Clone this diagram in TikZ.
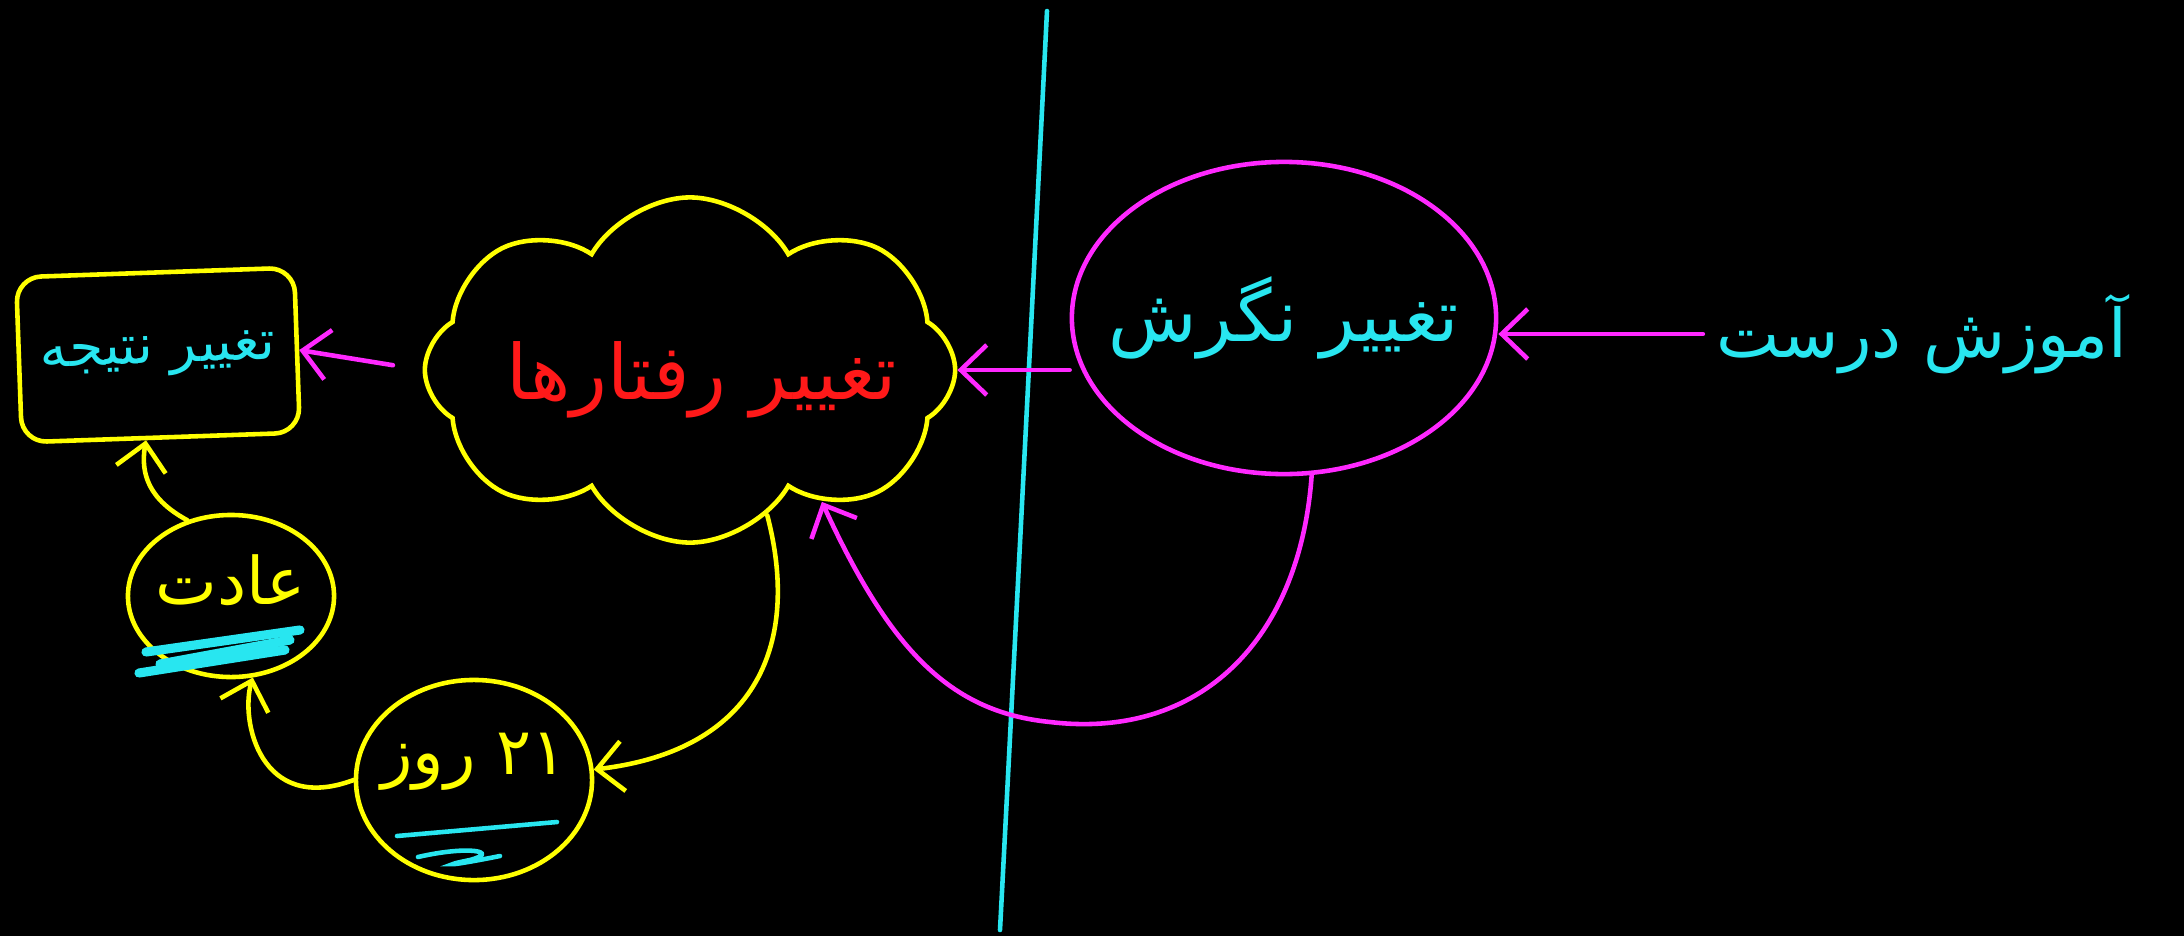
\documentclass[tikz,border=0pt]{standalone}
\usepackage{fontspec}
\usepackage{graphicx}
\usetikzlibrary{shapes.geometric,shapes.symbols,arrows.meta}
\TeXXeTstate=1
\newfontfamily\arabicfont[Script=Arabic]{DejaVu Sans}
\definecolor{pcyan}{RGB}{40,230,240}
\definecolor{pmag}{RGB}{255,40,255}
\definecolor{pyel}{RGB}{255,255,0}
\definecolor{pred}{RGB}{255,25,25}
\begin{document}
\begin{tikzpicture}[x=0.01cm,y=-0.01cm,line width=1.3pt,line cap=round,
  barb/.style={-{Straight Barb[length=0.26cm,width=0.5cm]}},
  pinkarrow/.style={draw=pmag,barb},
  yelarrow/.style={draw=pyel,barb},
  pinkoval/.style={ellipse,draw=pmag,inner sep=0pt},
  yeloval/.style={ellipse,draw=pyel,inner sep=0pt},
  cloudbox/.style={cloud,draw=pyel,cloud puffs=8,cloud puff arc=120,aspect=1.5,inner sep=0pt},
  resbox/.style={draw=pyel,rounded corners=0.25cm,inner sep=0pt,text=pcyan},
  scribble/.style={draw=pcyan,line width=2.6pt}
]
\fill[black] (0,0) rectangle (2184,936);
\useasboundingbox (0,0) rectangle (2184,936);

% divider
\draw[pcyan] (1047,11) .. controls (1030,350) and (1012,700) .. (1000,930);

% shapes
\node[pinkoval,minimum width=4.24cm,minimum height=3.12cm] (att) at (1284,318) {};
\node[cloudbox,minimum width=5.3cm,minimum height=3.45cm] (beh) at (690,370) {};
\node[resbox,rotate=2,minimum width=2.78cm,minimum height=1.65cm] (res) at (158,355) {\resizebox{2.35cm}{!}{\arabicfont\beginR تغییر نتیجه\endR}};
\node[yeloval,minimum width=2.06cm,minimum height=1.62cm] (habit) at (231,596) {};
\node[yeloval,minimum width=2.36cm,minimum height=2.0cm] (days) at (474,780) {};

% texts
\node[text=pcyan] (atttxt) at (att) {\resizebox{3.5cm}{!}{\arabicfont\beginR تغییر نگرش\endR}};
\node[text=pcyan] (edu) at (1922,334) {\resizebox{4.1cm}{!}{\arabicfont\beginR آموزش درست\endR}};
\node[text=pred] (behtxt) at (702,380) {\resizebox{3.9cm}{!}{\arabicfont\beginR تغییر رفتارها\endR}};
\node[text=pyel] (habittxt) at (231,580) {\resizebox{1.5cm}{!}{\arabicfont\beginR عادت\endR}};
\node[text=pyel] (daystxt) at (474,762) {\resizebox{1.85cm}{!}{\arabicfont\beginR\beginL ۲۱\endL{} روز\endR}};

% cyan scribbles
\draw[scribble] (146,652) -- (300,630);
\draw[scribble] (139,673) -- (285,650);
\draw[scribble] (160,664) -- (290,640);
\draw[pcyan] (397,836) -- (557,822);
\draw[pcyan] (418,857) .. controls (470,845) and (500,852) .. (470,860) .. controls (440,866) and (450,866) .. (500,856);

% connectors
\draw[pinkarrow] (edu.west) -- (edu.west -| att.east);
\draw[pinkarrow] (att.west |- beh.east) -- (beh.east);
\draw[pinkarrow,shorten <=0.3cm] (beh.west) -- (res.east);
\draw[pinkarrow] (att.280) .. controls (1300,640) and (1200,740) .. (1050,722) .. controls (950,712) and (890,650) .. (beh.-45);
\draw[yelarrow] (beh.-62) .. controls (800,640) and (760,750) .. (days.5);
\draw[yelarrow] (days.west) .. controls (260,815) and (240,720) .. (habit.-75);
\draw[yelarrow] (habit.120) .. controls (150,500) and (140,475) .. (res.-100);
\end{tikzpicture}
\end{document}
